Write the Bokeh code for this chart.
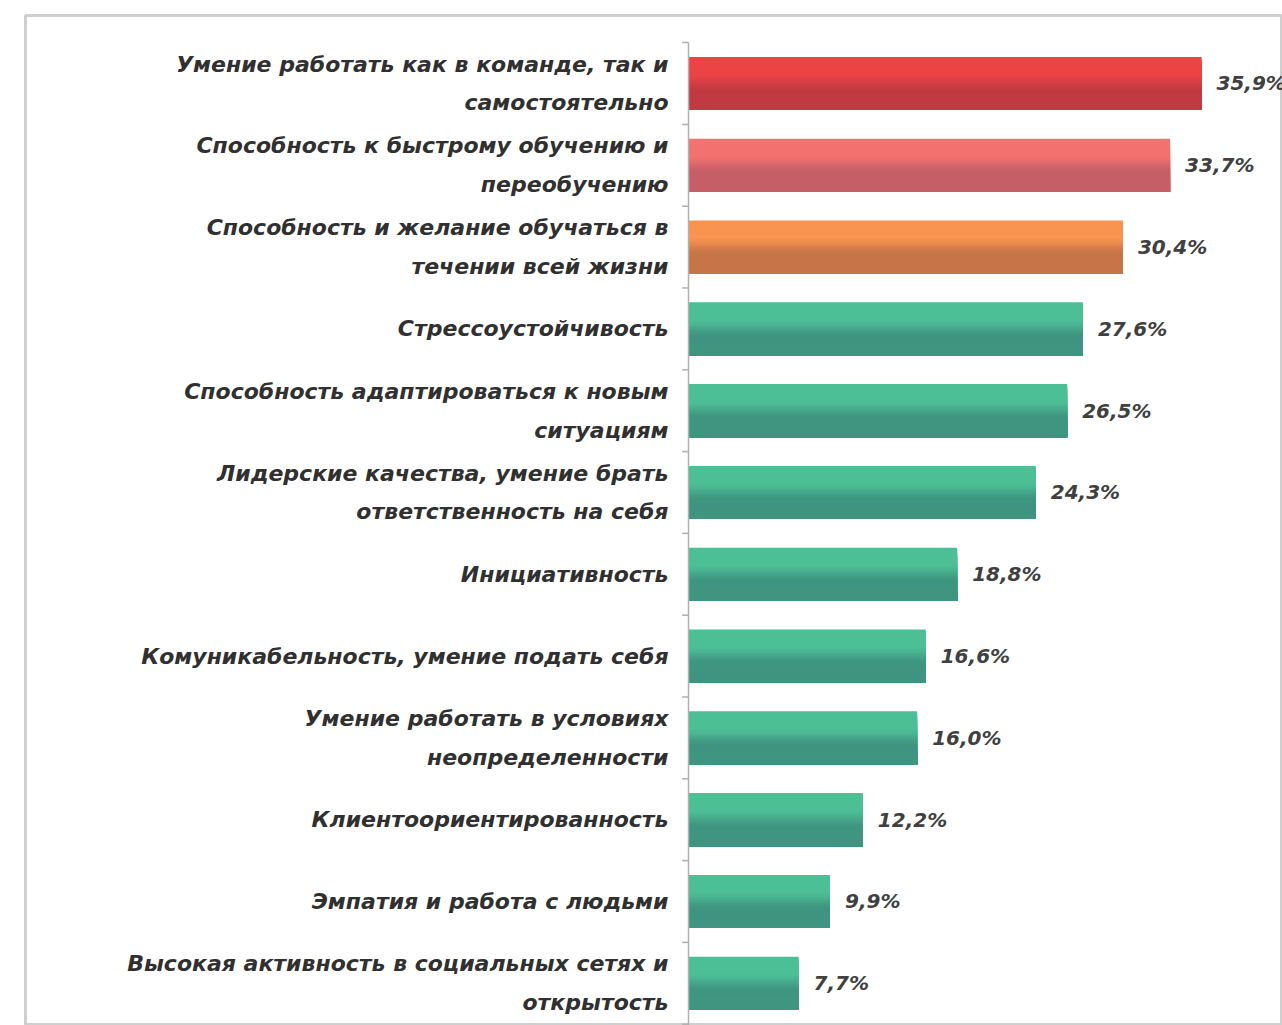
import numpy as np
from bokeh.plotting import figure
from bokeh.models import Range1d, ColumnDataSource
from bokeh.core.properties import value
from bokeh.embed import file_html
from bokeh.resources import INLINE

categories = [
    "Умение работать как в команде, так и\nсамостоятельно",
    "Способность к быстрому обучению и\nпереобучению",
    "Способность и желание обучаться в\nтечении всей жизни",
    "Стрессоустойчивость",
    "Способность адаптироваться к новым\nситуациям",
    "Лидерские качества, умение брать\nответственность на себя",
    "Инициативность",
    "Комуникабельность, умение подать себя",
    "Умение работать в условиях\nнеопределенности",
    "Клиентоориентированность",
    "Эмпатия и работа с людьми",
    "Высокая активность в социальных сетях и\nоткрытость",
]
values = [35.9, 33.7, 30.4, 27.6, 26.5, 24.3, 18.8, 16.6, 16.0, 12.2, 9.9, 7.7]
value_labels = ["35,9%", "33,7%", "30,4%", "27,6%", "26,5%", "24,3%",
                "18,8%", "16,6%", "16,0%", "12,2%", "9,9%", "7,7%"]
top_colors = ["#ec4347", "#f27270"] + ["#f89450"] + ["#4dbf97"] * 9
bottom_colors = ["#c13a42", "#c65e67"] + ["#c67448"] + ["#3f9580"] * 9

FONT = "DejaVu Sans"

W, H = 1282, 1025
p = figure(width=W, height=H, output_backend="svg", toolbar_location=None,
           x_axis_location=None, y_axis_location=None,
           min_border_left=25, min_border_top=15, min_border_right=0, min_border_bottom=0)
p.x_range = Range1d(-46.4, 41.57)
p.y_range = Range1d(11.516, -0.831)
p.xgrid.visible = False
p.ygrid.visible = False
p.outline_line_color = "#cfcfcf"
p.outline_line_width = 3
p.background_fill_color = "white"
p.border_fill_color = "white"

n = len(categories)
ys = np.arange(n)


def hexrgb(h):
    return np.array([int(h[i:i + 2], 16) for i in (1, 3, 5)], dtype=float)


def rgbhex(c):
    return "#%02x%02x%02x" % tuple(int(round(v)) for v in c)


bar_h = 0.65
nslices = 36
for k in range(nslices):
    frac0 = k / nslices
    frac1 = (k + 1) / nslices
    mid = (frac0 + frac1) / 2
    t = np.clip((mid - 0.3) / 0.35, 0, 1)
    t = t * t * (3 - 2 * t)
    cols = [rgbhex(hexrgb(a) * (1 - t) + hexrgb(b) * t) for a, b in zip(top_colors, bottom_colors)]
    # each slice runs from its own top edge down to the bar bottom, drawn top to bottom
    span = bar_h * (1 - frac0)
    yc = ys + bar_h / 2 - span / 2
    src = ColumnDataSource(dict(y=yc, right=values, color=cols))
    p.hbar(y="y", left=0, right="right", height=span, source=src,
           fill_color="color", line_color=None)

# axis line and ticks
p.segment(x0=[0], y0=[-0.5], x1=[0], y1=[n + 0.5], line_color="#b0b0b0", line_width=1.5)
tick_y = np.arange(n + 1) - 0.5
p.segment(x0=[0] * len(tick_y), y0=tick_y, x1=[-0.45] * len(tick_y), y1=tick_y,
          line_color="#b0b0b0", line_width=1.5)

# category labels
lab_src = ColumnDataSource(dict(x=[0] * n, y=ys, text=categories))
p.text(x="x", y="y", text="text", source=lab_src, x_offset=-20,
       text_align="right", text_baseline="middle",
       text_font=value(FONT), text_font_style="bold italic",
       text_font_size="22px", text_color="#303030", text_line_height=1.55)

# value labels
val_src = ColumnDataSource(dict(x=values, y=ys, text=value_labels))
p.text(x="x", y="y", text="text", source=val_src, x_offset=15,
       text_align="left", text_baseline="middle",
       text_font=value(FONT), text_font_style="bold italic",
       text_font_size="20px", text_color="#404040")

open("out.html", "w").write(file_html(p, INLINE))
